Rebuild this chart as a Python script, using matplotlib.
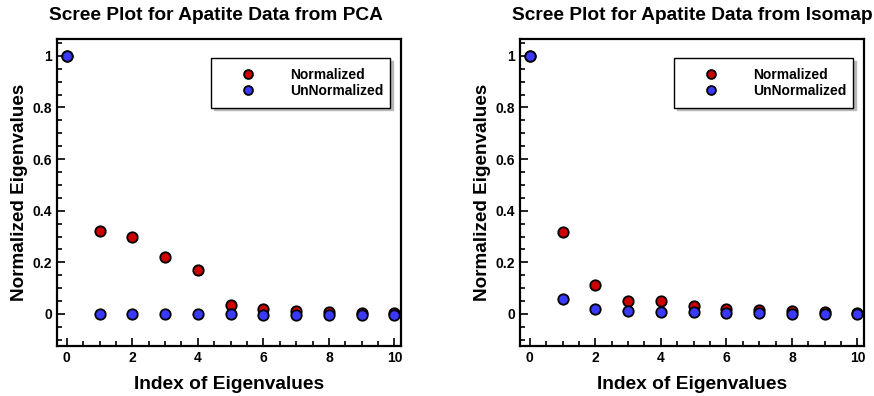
import matplotlib
matplotlib.use("Agg")
import matplotlib.pyplot as plt
from matplotlib.ticker import MultipleLocator

plt.rcParams['font.family'] = ['Liberation Sans', 'DejaVu Sans']
plt.rcParams['font.weight'] = 'bold'

index = list(range(11))
pca_norm = [1.0, 0.323, 0.300, 0.219, 0.169, 0.034, 0.019, 0.012, 0.007, 0.005, 0.003]
pca_unnorm = [1.0, -0.001, -0.001, -0.001, -0.001, -0.002, -0.003, -0.003, -0.003, -0.003, -0.004]
iso_norm = [1.0, 0.317, 0.114, 0.052, 0.049, 0.030, 0.020, 0.017, 0.010, 0.007, 0.004]
iso_unnorm = [1.0, 0.057, 0.021, 0.012, 0.007, 0.006, 0.003, 0.002, 0.001, 0.001, 0.001]
titles = ["Scree Plot for Apatite Data from PCA", "Scree Plot for Apatite Data from Isomap"]
series_labels = ["Normalized", "UnNormalized"]

fig = plt.figure(figsize=(8.74, 3.96), dpi=100)
W, H = 874, 396
axes_px = [(57, 39, 401, 346), (520, 39, 864, 346)]
data = [(pca_norm, pca_unnorm), (iso_norm, iso_unnorm)]

for (l, t, r, b), (n, u), title in zip(axes_px, data, titles):
    ax = fig.add_axes([l / W, 1 - b / H, (r - l) / W, (b - t) / H])
    ax.plot(index, n, 'o', color='#cc0000', markeredgecolor='black', markeredgewidth=1.3,
            markersize=7.5, label=series_labels[0], zorder=3)
    ax.plot(index, u, 'o', color='#3a3aff', markeredgecolor='black', markeredgewidth=1.3,
            markersize=7.5, label=series_labels[1], zorder=4)
    ax.set_xlim(-0.3, 10.2)
    ax.set_ylim(-0.124, 1.065)
    ax.xaxis.set_major_locator(MultipleLocator(2))
    ax.xaxis.set_minor_locator(MultipleLocator(0.5))
    ax.yaxis.set_minor_locator(MultipleLocator(0.05))
    ax.set_yticks([0, 0.2, 0.4, 0.6, 0.8, 1.0])
    ax.set_yticklabels(['0', '0.2', '0.4', '0.6', '0.8', '1'])
    ax.tick_params(which='both', direction='in', top=False, right=False, width=1.2)
    ax.tick_params(which='major', length=6, labelsize=10, pad=3.5)
    ax.tick_params(which='minor', length=3.5)
    for lab in ax.get_xticklabels() + ax.get_yticklabels():
        lab.set_fontweight('bold')
    for s in ax.spines.values():
        s.set_linewidth(1.6)
    ax.set_xlabel("Index of Eigenvalues", fontsize=13.8, fontweight='bold', labelpad=8)
    ax.set_ylabel("Normalized Eigenvalues", fontsize=13.6, fontweight='bold', labelpad=3)
    ax.set_title(title, fontsize=13.8, fontweight='bold', x=-0.023, ha='left', pad=14)
    leg = ax.legend(loc='upper left', bbox_to_anchor=(0.448, 0.788, 0.52, 0.15), mode='expand',
                    fontsize=10, frameon=True, fancybox=False, shadow={'color': '0.72', 'alpha': 1.0},
                    borderaxespad=0, handlelength=3.9, handletextpad=1.1, markerscale=0.85,
                    labelspacing=0.15, borderpad=0.7)
    leg.get_frame().set_edgecolor('black')
    leg.get_frame().set_linewidth(1.0)
    for txt in leg.get_texts():
        txt.set_fontweight('bold')

fig.savefig("out.png", dpi=100)
